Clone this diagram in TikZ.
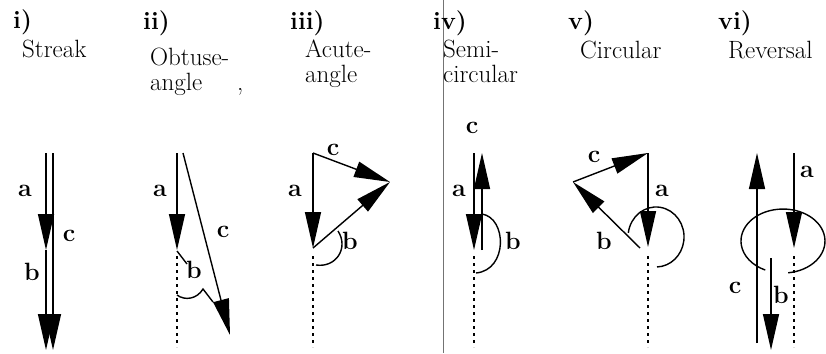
\documentclass[tikz,border=0pt]{standalone}
\usetikzlibrary{arrows.meta}
\begin{document}
\begin{tikzpicture}[x=1pt,y=-1pt,
  vec/.style={line width=1.4pt,-{Triangle[length=36pt,width=16pt]}},
  ln/.style={line width=1.4pt},
  dots/.style={line width=1.8pt,dash pattern=on 3pt off 4pt},
  lbl/.style={inner sep=0pt,anchor=base west,font=\fontsize{25}{28}\selectfont},
  num/.style={inner sep=0pt,anchor=base west,font=\fontsize{25}{28}\selectfont\bfseries},
  vl/.style={inner sep=0pt,font=\fontsize{25}{28}\selectfont\bfseries},
  scan/.style={line width=0.6pt,black!55}]
\useasboundingbox (0,0) rectangle (826,353);
% scan artefact
\coordinate (fTop) at (443,0); \coordinate (fBot) at (443,353);
\draw[scan] (fTop) -- (fBot);
% headings
\node[num] (h1) at (13,29) {i)};
\node[lbl] (t1) at (22,58) {Streak};
\node[num] (h2) at (143,30) {ii)};
\node[lbl] (t2a) at (150,66) {Obtuse-};
\node[lbl] (t2b) at (150,90) {angle};
\node[lbl] (t2c) at (237,90) {,};
\node[num] (h3) at (290,30) {iii)};
\node[lbl] (t3a) at (305,58) {Acute-};
\node[lbl] (t3b) at (305,82) {angle};
\node[num] (h4) at (433,30) {iv)};
\node[lbl] (t4a) at (443,58) {Semi-};
\node[lbl] (t4b) at (443,82) {circular};
\node[num] (h5) at (568,30) {v)};
\node[lbl] (t5) at (580,59) {Circular};
\node[num] (h6) at (718,30) {vi)};
\node[lbl] (t6) at (728,59) {Reversal};
% ---------- panel i
\coordinate (iA) at (46,153); \coordinate (iB) at (46,250); \coordinate (iC) at (46,350);
\coordinate (iD) at (53,153); \coordinate (iE) at (53,350);
\draw[vec] (iA) -- (iB);
\draw[vec] (iB) -- (iC);
\draw[vec] (iD) -- (iE);
\node[vl] (ia) at (25,191) {a};
\node[vl] (ic) at (69,236) {c};
\node[vl] (ib) at (32,272) {b};
% ---------- panel ii
\coordinate (iiA) at (177,153); \coordinate (iiB) at (177,250);
\coordinate (iiC) at (183,153); \coordinate (iiD) at (230,335);
\coordinate (iiE) at (177,251); \coordinate (iiF) at (187,264);
\coordinate (iiG) at (177,256); \coordinate (iiH) at (177,347);
\coordinate (iiI) at (177,295); \coordinate (iiJ) at (203,289); \coordinate (iiK) at (213,302);
\draw[vec] (iiA) -- (iiB);
\draw[vec] (iiC) -- (iiD);
\draw[ln] (iiE) -- (iiF);
\draw[dots] (iiG) -- (iiH);
\draw[ln] (iiI) .. controls (185,301) and (197,299) .. (iiJ) -- (iiK);
\node[vl] (iia) at (160,191) {a};
\node[vl] (iic) at (223,232) {c};
\node[vl] (iib) at (194,270) {b};
% ---------- panel iii
\coordinate (iiiA) at (313,153); \coordinate (iiiB) at (313,248); \coordinate (iiiC) at (390,182);
\coordinate (iiiG) at (313,256); \coordinate (iiiH) at (313,347);
\coordinate (iiiI) at (338,231); \coordinate (iiiJ) at (316,265);
\draw[vec] (iiiA) -- (iiiB);
\draw[vec] (iiiA) -- (iiiC);
\draw[vec] (iiiB) -- (iiiC);
\draw[dots] (iiiG) -- (iiiH);
\draw[ln] (iiiI) .. controls (349,248) and (336,268) .. (iiiJ);
\node[vl] (iiia) at (295,191) {a};
\node[vl] (iiic) at (333,150) {c};
\node[vl] (iiib) at (350,241) {b};
% ---------- panel iv
\coordinate (ivA) at (474,153); \coordinate (ivB) at (474,250);
\coordinate (ivC) at (482,250); \coordinate (ivD) at (482,153);
\coordinate (ivG) at (474,256); \coordinate (ivH) at (474,347);
\coordinate (ivI) at (482,214); \coordinate (ivJ) at (476,273);
\draw[vec] (ivA) -- (ivB);
\draw[vec] (ivC) -- (ivD);
\draw[dots] (ivG) -- (ivH);
\draw[ln] (ivI) .. controls (507,218) and (508,270) .. (ivJ);
\node[vl] (ivc) at (472,128) {c};
\node[vl] (iva) at (459,191) {a};
\node[vl] (ivb) at (513,241) {b};
% ---------- panel v
\coordinate (vA) at (648,153); \coordinate (vB) at (648,247);
\coordinate (vC) at (573,182); \coordinate (vD) at (640,248);
\coordinate (vG) at (648,256); \coordinate (vH) at (648,347);
\coordinate (vI) at (628.3,232.8);
\draw[vec] (vA) -- (vB);
\draw[vec] (vC) -- (vA);
\draw[vec] (vD) -- (vC);
\draw[dots] (vG) -- (vH);
\draw[ln] (vI) arc[start angle=188,end angle=448,x radius=28,y radius=30];
\node[vl] (vc) at (594,157) {c};
\node[vl] (va) at (662,191) {a};
\node[vl] (vb) at (604,241) {b};
% ---------- panel vi
\coordinate (viA) at (794,153); \coordinate (viB) at (794,248);
\coordinate (viC) at (757,343); \coordinate (viD) at (757,153);
\coordinate (viE) at (771,258); \coordinate (viF) at (771,350);
\coordinate (viG) at (794,256); \coordinate (viH) at (794,347);
\coordinate (viI) at (788.1,272.8);
\draw[vec] (viA) -- (viB);
\draw[vec] (viC) -- (viD);
\draw[vec] (viE) -- (viF);
\draw[dots] (viG) -- (viH);
\draw[ln] (viI) arc[start angle=83,end angle=-245,x radius=42,y radius=32];
\node[vl] (via) at (807,172) {a};
\node[vl] (vic) at (735,288) {c};
\node[vl] (vib) at (781,295) {b};
\end{tikzpicture}
\end{document}
